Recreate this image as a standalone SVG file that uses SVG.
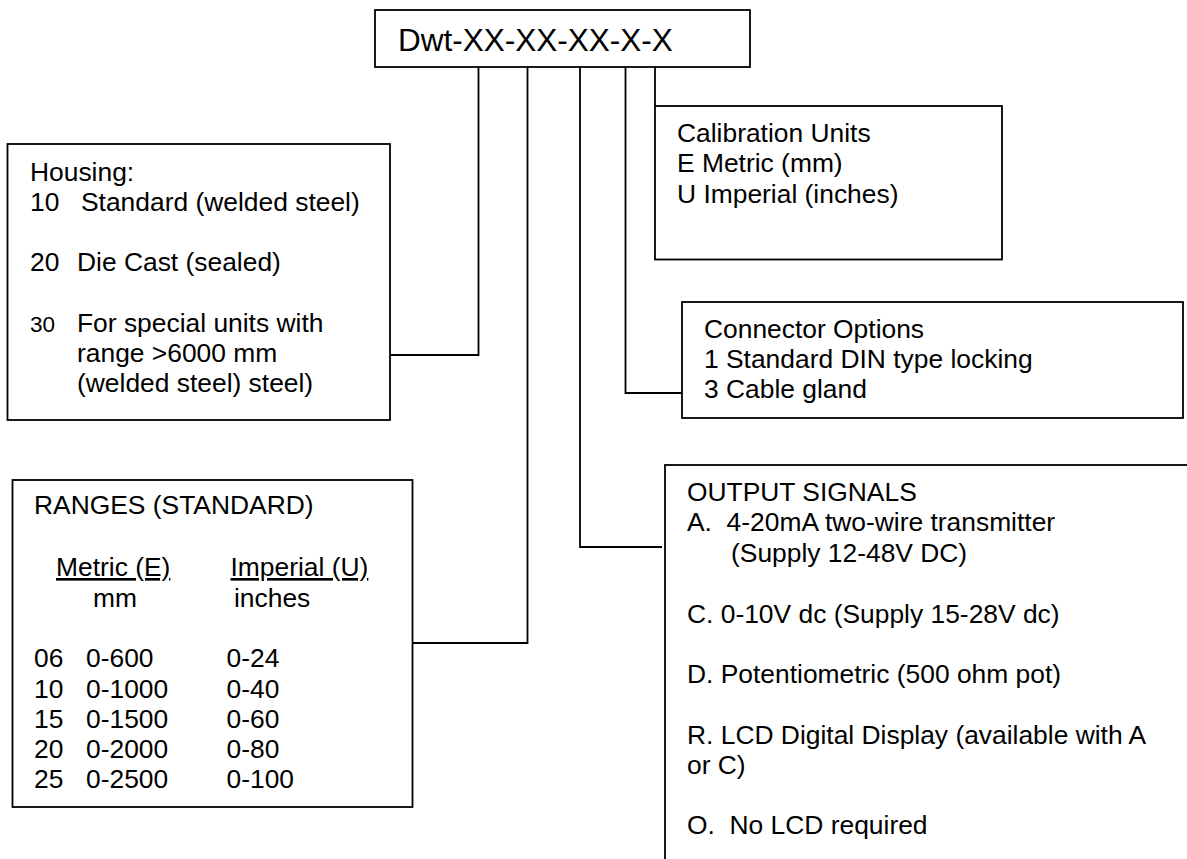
<svg xmlns="http://www.w3.org/2000/svg" width="1187" height="859" viewBox="0 0 1187 859">
<style>
.box{fill:#fff;stroke:#000;stroke-width:1.8}
.c{fill:none;stroke:#000;stroke-width:1.8}
.t{font-family:"Liberation Sans",Arial,sans-serif;font-size:26.4px;fill:#000}
.u{text-decoration:underline}
</style>
<rect width="1187" height="859" fill="#fff"/>
<g id="connectors">
<path class="c" d="M478.5,67 V355 H390"/>
<path class="c" d="M527.5,67 V643 H412.5"/>
<path class="c" d="M580,67 V547 H662"/>
<path class="c" d="M625.5,67 V393 H682"/>
<path class="c" d="M655,67 V106"/>
</g>
<g id="model">
<rect class="box" x="375" y="10" width="375" height="57"/>
<text class="t" x="398" y="51" style="font-size:31.5px">Dwt-XX-XX-XX-X-X</text>
</g>
<g id="housing">
<rect class="box" x="7.5" y="144" width="382.5" height="276"/>
<text class="t" x="30" y="181">Housing:</text>
<text class="t" x="30" y="211">10</text>
<text class="t" x="81" y="211">Standard (welded steel)</text>
<text class="t" x="30" y="271">20</text>
<text class="t" x="77" y="271">Die Cast (sealed)</text>
<text class="t" x="30" y="332" style="font-size:22.5px">30</text>
<text class="t" x="77" y="332">For special units with</text>
<text class="t" x="77" y="362">range &gt;6000 mm</text>
<text class="t" x="77" y="392">(welded steel) steel)</text>
</g>
<g id="calibration">
<rect class="box" x="655" y="106" width="347" height="153.5"/>
<text class="t" x="677" y="142">Calibration Units</text>
<text class="t" x="677" y="172">E Metric (mm)</text>
<text class="t" x="677" y="203">U Imperial (inches)</text>
</g>
<g id="connector-options">
<rect class="box" x="682" y="302" width="501" height="116"/>
<text class="t" x="704" y="338">Connector Options</text>
<text class="t" x="704" y="368">1 Standard DIN type locking</text>
<text class="t" x="704" y="398">3 Cable gland</text>
</g>
<g id="ranges">
<rect class="box" x="12.5" y="480" width="400" height="327"/>
<text class="t" x="34" y="514">RANGES (STANDARD)</text>
<text class="t u" x="56" y="576">Metric (E)</text>
<text class="t u" x="230.5" y="576">Imperial (U)</text>
<text class="t" x="93" y="607">mm</text>
<text class="t" x="234" y="607">inches</text>
<g class="t">
<text x="34" y="667">06</text><text x="86" y="667">0-600</text><text x="226.5" y="667">0-24</text>
<text x="34" y="697.5">10</text><text x="86" y="697.5">0-1000</text><text x="226.5" y="697.5">0-40</text>
<text x="34" y="727.5">15</text><text x="86" y="727.5">0-1500</text><text x="226.5" y="727.5">0-60</text>
<text x="34" y="757.5">20</text><text x="86" y="757.5">0-2000</text><text x="226.5" y="757.5">0-80</text>
<text x="34" y="787.5">25</text><text x="86" y="787.5">0-2500</text><text x="226.5" y="787.5">0-100</text>
</g>
</g>
<g id="output-signals">
<rect class="box" x="665" y="465" width="600" height="500"/>
<text class="t" x="687" y="501">OUTPUT SIGNALS</text>
<text class="t" x="687" y="531" xml:space="preserve">A.  4-20mA two-wire transmitter</text>
<text class="t" x="731" y="562">(Supply 12-48V DC)</text>
<text class="t" x="687" y="623">C. 0-10V dc (Supply 15-28V dc)</text>
<text class="t" x="687" y="683">D. Potentiometric (500 ohm pot)</text>
<text class="t" x="687" y="743.5">R. LCD Digital Display (available with A</text>
<text class="t" x="687" y="774">or C)</text>
<text class="t" x="687" y="834" xml:space="preserve">O.  No LCD required</text>
</g>
</svg>
